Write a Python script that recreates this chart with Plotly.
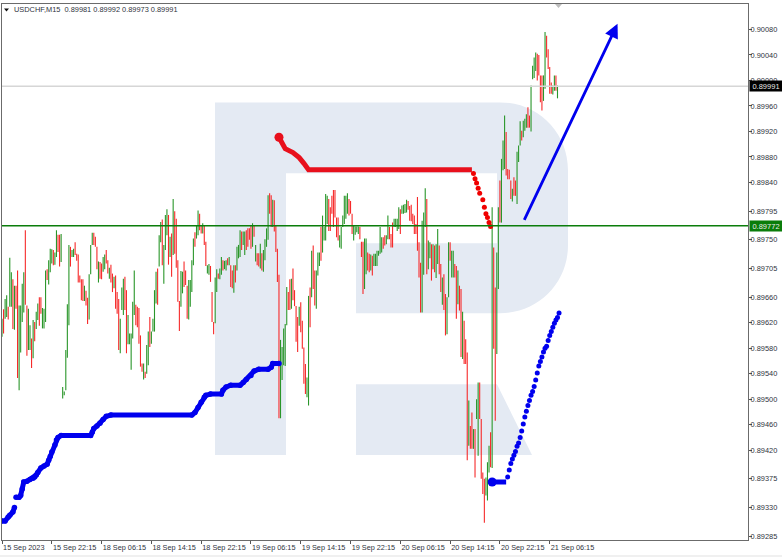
import plotly.graph_objects as go

# ---- candles, prices in 1e-5 points (one row = 10 bars)
bar_highs = [
 89626,89641,89657,89663,89645,89722,89699,89688,89678,89678,
 89702,89647,89647,89681,89699,89765,89647,89642,89616,89595,
 89624,89621,89637,89650,89660,89660,89643,89642,89702,89704,
 89718,89736,89735,89734,89730,89765,89758,89758,89759,89519,
 89512,89577,89649,89742,89739,89734,89736,89746,89728,89727,
 89694,89688,89688,89678,89670,89659,89696,89742,89761,89761,
 89755,89739,89716,89715,89713,89723,89727,89734,89718,89706,
 89711,89697,89692,89694,89668,89657,89626,89675,89689,89692,
 89671,89632,89603,89603,89653,89702,89648,89645,89643,89600,
 89556,89556,89543,89585,89606,89629,89606,89626,89671,89700,
 89705,89757,89778,89782,89742,89789,89798,89789,89755,89760,
 89814,89795,89783,89718,89654,89701,89700,89716,89702,89678,
 89687,89687,89718,89752,89762,89773,89796,89791,89773,89776,
 89773,89747,89710,89712,89709,89668,89621,89691,89704,89697,
 89705,89723,89718,89717,89718,89721,89723,89710,89702,89710,
 89710,89739,89742,89765,89763,89763,89763,89765,89768,89768,
 89773,89776,89773,89742,89729,89729,89744,89729,89734,89751,
 89768,89820,89823,89820,89813,89812,89773,89736,89695,89593,
 89582,89611,89618,89676,89668,89688,89689,89705,89671,89646,
 89629,89645,89652,89623,89581,89555,89534,89662,89675,89733,
 89741,89702,89702,89730,89730,89770,89788,89770,89822,89819,
 89814,89801,89819,89828,89828,89785,89785,89757,89770,89788,
 89819,89819,89823,89814,89811,89791,89772,89771,89771,89771,
 89770,89747,89747,89752,89752,89730,89728,89727,89725,89728,
 89728,89733,89733,89770,89754,89754,89757,89757,89788,89770,
 89759,89777,89783,89783,89783,89801,89798,89804,89805,89806,
 89813,89811,89803,89805,89791,89788,89775,89817,89746,89714,
 89780,89793,89831,89814,89749,89746,89743,89743,89741,89743,
 89767,89741,89712,89691,89696,89665,89660,89746,89746,89733,
 89733,89712,89709,89702,89678,89673,89637,89623,89594,89573,
 89498,89458,89479,89453,89453,89500,89526,89526,89469,89385,
 89375,89377,89401,89427,89448,89801,89738,89675,89730,89801,
 89843,89877,89906,89945,89919,89861,89860,89843,89830,89848,
 89843,89888,89898,89936,89921,89937,89940,89947,89958,89945,
 89992,90023,90036,90044,90042,90040,90008,90008,90008,90076,
 90070,90049,90021,89997,89992,90008,90008,89992,
]
bar_lows = [
 89598,89603,89626,89629,89625,89645,89645,89610,89609,89642,
 89533,89514,89573,89621,89636,89648,89568,89577,89577,89549,
 89564,89591,89610,89624,89615,89634,89611,89611,89621,89687,
 89680,89699,89713,89710,89711,89723,89731,89708,89715,89501,
 89506,89514,89565,89616,89708,89723,89723,89726,89717,89683,
 89683,89655,89654,89654,89647,89618,89625,89696,89742,89742,
 89739,89704,89683,89689,89688,89700,89704,89713,89697,89689,
 89683,89668,89674,89642,89634,89577,89572,89640,89632,89640,
 89572,89586,89586,89546,89595,89632,89616,89613,89587,89551,
 89543,89531,89533,89540,89553,89582,89587,89606,89606,89650,
 89648,89708,89746,89710,89681,89734,89757,89711,89723,89692,
 89726,89728,89706,89653,89607,89645,89666,89676,89679,89626,
 89625,89645,89668,89710,89739,89752,89757,89765,89760,89760,
 89742,89709,89697,89695,89684,89621,89602,89619,89668,89689,
 89688,89695,89702,89704,89702,89710,89710,89676,89674,89667,
 89683,89702,89721,89723,89734,89742,89726,89734,89739,89750,
 89736,89739,89755,89716,89710,89708,89705,89702,89700,89718,
 89739,89750,89791,89770,89770,89763,89731,89684,89470,89470,
 89530,89553,89552,89616,89640,89640,89642,89655,89646,89590,
 89574,89615,89605,89579,89524,89508,89503,89490,89613,89660,
 89673,89647,89642,89694,89709,89717,89730,89749,89749,89775,
 89764,89764,89791,89770,89785,89754,89749,89738,89736,89770,
 89775,89783,89791,89788,89791,89759,89749,89758,89762,89759,
 89751,89723,89665,89673,89696,89702,89699,89702,89694,89709,
 89709,89709,89725,89728,89730,89736,89741,89743,89751,89751,
 89738,89738,89770,89770,89764,89767,89759,89791,89791,89792,
 89793,89797,89780,89779,89775,89759,89759,89733,89691,89636,
 89636,89695,89770,89696,89704,89721,89686,89704,89699,89690,
 89712,89696,89668,89648,89640,89600,89602,89660,89717,89691,
 89691,89691,89626,89649,89639,89566,89563,89555,89555,89404,
 89427,89422,89422,89422,89377,89469,89411,89469,89375,89351,
 89306,89349,89341,89385,89393,89392,89579,89466,89571,89673,
 89777,89777,89859,89861,89851,89845,89845,89814,89810,89819,
 89819,89806,89872,89898,89906,89911,89921,89926,89926,89926,
 89920,90002,90004,90015,90000,90008,89966,89953,89968,89987,
 90036,90018,89979,89979,89978,89984,89984,89972,
]
bar_dirs = (
 "GRGGRGGRGR" "RGGGGRRGGR" "GRGGRRGGGR" "GGGRGGRRGG" "GGGGRGGRRR"
 "RRRGRRGGGR" "RRGRRGGRRG" "RRGRRRGGGR" "RGGGGGRRRR" "RGRGGRGGGG"
 "RGGRGGGRGR" "GRRRRGGRRR" "GGGGRGGRRG" "RRGGRRRGGR" "GGRGGRGRRG"
 "RGGGRGGRRR" "RGRGRRGRGG" "GGRRGRRRRG" "GGGGRRGRRR" "RGRRRRGGRG"
 "RRGGGRGGGG" "RRRRRRRGGG" "GGGRRRGGGG" "RRRGGRRGRG" "GGGGGRRGGR"
 "RRGGGGRGGG" "GRRRRRRRRR" "GGGRGGRGRG" "GRRGRRGGRG" "GRRGRRGRRR"
 "GRRGRGGRRR" "RGGGRGRRGG" "RGGGRRRRGR" "RGGGRGGGRR" "GGGGRRRRGG"
 "RRRRGGRG"
)

# ---- indicator traces: bar index and price in 1e-5 points
blue_left_idx = [0,2,4,5,7,8,None,9,11,12,13,14,16,18,20,21,22,23,25,27,29,30,31,32,34,35,36,38,57,58,59,61,63,65,67,70,122,124,126,128,130,131,134,141,142,144,147,153,155,157,160,162,165,171,173,174,178]
blue_left_val = [89309,89309,89315,89318,89323,89330,None,89346,89346,89349,89359,89370,89371,89374,89376,89378,89381,89385,89392,89395,89398,89404,89410,89417,89428,89436,89440,89443,89443,89448,89454,89458,89462,89468,89473,89475,89475,89479,89487,89495,89503,89506,89508,89508,89514,89519,89522,89522,89526,89531,89537,89544,89547,89547,89550,89556,89556]
blue_flat_idx = [315,324]
blue_flat_val = [89370,89370]
blue_dot_idx = [325,326,327,328,329,330,331,332,333,334,335,336,337,338,339,340,341,342,343,344,345,346,347,348,349,350,351,352,353,354,355,356,357,358]
blue_dot_val = [89378,89389,89399,89406,89412,89418,89426,89431,89440,89450,89461,89472,89481,89490,89498,89506,89512,89520,89530,89541,89552,89559,89566,89574,89580,89583,89592,89600,89606,89613,89619,89624,89628,89635]
red_line_idx = [178,182,187,191,194,197,302]
red_line_val = [89911,89893,89887,89879,89870,89860,89860]
red_dot_idx = [303,304,305,306,307,309,310,311,312,313,314]
red_dot_val = [89854,89846,89839,89831,89823,89813,89801,89791,89785,89777,89771]

# ---- axes
x_tick_labels = ["15 Sep 2023","15 Sep 22:15","18 Sep 06:15","18 Sep 14:15","18 Sep 22:15","19 Sep 06:15",
                 "19 Sep 14:15","19 Sep 22:15","20 Sep 06:15","20 Sep 14:15","20 Sep 22:15","21 Sep 06:15"]
x_tick_bars = [0,32,64,96,128,160,192,224,256,288,320,352]
y_tick_labels = ["0.90080","0.90040","0.90000","0.89960","0.89920","0.89880","0.89840","0.89795","0.89750","0.89705",
                 "0.89660","0.89620","0.89580","0.89540","0.89500","0.89460","0.89420","0.89375","0.89330","0.89285"]
last_price = 0.89991
level_price = 0.89772
title_text = "USDCHF,M15  0.89981 0.89992 0.89973 0.89991"
arrow_from = (335.2, 0.89779)
arrow_to = (395.6, 0.90089)

W, H = 782, 557
L, R, T, B = 2, 748, 3.5, 540
def px(x, y):
    return (x - L) / (R - L), 1 - (y - T) / (B - T)
def path(points):
    out = []
    for cmd, pts_ in points:
        out.append(cmd + " ".join("%.5f,%.5f" % px(*p) for p in pts_))
    return " ".join(out) + " Z"

INK = "#2f3440"
FONT = "Liberation Sans"
PALE = "#E4EAF3"
pts = lambda v: None if v is None else v * 1e-5

opens = [l if d == "G" else h for h, l, d in zip(bar_highs, bar_lows, bar_dirs)]
closes = [h if d == "G" else l for h, l, d in zip(bar_highs, bar_lows, bar_dirs)]

fig = go.Figure()
fig.add_trace(go.Ohlc(
    x=list(range(len(bar_highs))),
    open=[pts(v) for v in opens], high=[pts(v) for v in bar_highs],
    low=[pts(v) for v in bar_lows], close=[pts(v) for v in closes],
    tickwidth=0, increasing_line=dict(color="#2a962a", width=1.1),
    decreasing_line=dict(color="#f62a2a", width=1.1), showlegend=False, hoverinfo="skip"))
BLUE, RED = "#0000ee", "#e8101c"
fig.add_trace(go.Scatter(x=blue_left_idx, y=[pts(v) for v in blue_left_val], mode="lines+markers",
                         line=dict(color=BLUE, width=5), marker=dict(color=BLUE, size=5.5), showlegend=False))
fig.add_trace(go.Scatter(x=blue_flat_idx, y=[pts(v) for v in blue_flat_val], mode="lines",
                         line=dict(color=BLUE, width=5), showlegend=False))
fig.add_trace(go.Scatter(x=blue_dot_idx, y=[pts(v) for v in blue_dot_val], mode="markers",
                         marker=dict(color=BLUE, size=5), showlegend=False))
fig.add_trace(go.Scatter(x=blue_flat_idx[:1], y=[pts(v) for v in blue_flat_val[:1]], mode="markers",
                         marker=dict(color=BLUE, size=9), showlegend=False))
fig.add_trace(go.Scatter(x=red_line_idx, y=[pts(v) for v in red_line_val], mode="lines",
                         line=dict(color=RED, width=5), showlegend=False))
fig.add_trace(go.Scatter(x=red_dot_idx, y=[pts(v) for v in red_dot_val], mode="markers",
                         marker=dict(color="#f00000", size=5), showlegend=False))
fig.add_trace(go.Scatter(x=red_line_idx[:1], y=[pts(v) for v in red_line_val[:1]], mode="markers",
                         marker=dict(color=RED, size=9), showlegend=False))

shapes = [
    dict(type="path", xref="paper", yref="paper", layer="below", fillcolor=PALE, line_width=0,
         path=path([("M", [(215,102)]), ("L", [(500,102)]), ("C", [(538,102),(568,132),(568,170)]),
                    ("L", [(568,245)]), ("C", [(568,283),(538,313),(500,313)]), ("L", [(356,313)]),
                    ("L", [(356,243)]), ("L", [(497,243)]), ("L", [(497,173)]), ("L", [(286,173)]),
                    ("L", [(286,455)]), ("L", [(215,455)])])),
    dict(type="path", xref="paper", yref="paper", layer="below", fillcolor=PALE, line_width=0,
         path=path([("M", [(356,384)]), ("L", [(497,384)]), ("L", [(532,455)]), ("L", [(356,455)])])),
    dict(type="line", xref="paper", x0=0, x1=1, yref="y", y0=last_price, y1=last_price,
         line=dict(color="#d6d6d6", width=1.5), layer="above"),
    dict(type="line", xref="paper", x0=0, x1=1, yref="y", y0=level_price, y1=level_price,
         line=dict(color="#0b7d0b", width=1.6), layer="above"),
    dict(type="path", xref="paper", yref="paper", fillcolor="#111111", line_width=0,
         path=path([("M", [(4,8)]), ("L", [(9,8)]), ("L", [(6.5,11)])])),
    dict(type="path", xref="paper", yref="paper", fillcolor="#bdbdbd", line_width=0,
         path=path([("M", [(555,3.5)]), ("L", [(562,3.5)]), ("L", [(558.5,7.5)])])),
    dict(type="path", xref="paper", yref="paper", fillcolor="#f0f0f0", line_width=0,
         path=path([("M", [(0,555)]), ("L", [(782,555)]), ("L", [(782,557)]), ("L", [(0,557)])])),
]

def tag(price, text, bg):
    return dict(xref="paper", yref="y", x=1, y=price, xanchor="left", yanchor="middle", xshift=1,
                text=text, showarrow=False, bgcolor=bg, width=32, height=10, borderpad=0,
                font=dict(family=FONT, size=7.5, color="#e8e8e8"), align="center")

annotations = [
    dict(xref="paper", yref="paper", x=px(11.5,9)[0], y=px(11.5,9)[1], xanchor="left", yanchor="middle",
         text=title_text, showarrow=False, font=dict(family=FONT, size=7.4, color=INK)),
    dict(x=arrow_to[0], y=arrow_to[1], ax=arrow_from[0], ay=arrow_from[1], xref="x", yref="y",
         axref="x", ayref="y", text="", showarrow=True, arrowcolor="#0000ee", arrowwidth=2.8,
         arrowhead=2, arrowsize=1),
    tag(last_price, f"{last_price:.5f}", "#000000"),
    tag(level_price, f"{level_price:.5f}", "#0a7d0a"),
]

fig.update_layout(
    width=W, height=H, paper_bgcolor="white", plot_bgcolor="rgba(0,0,0,0)",
    margin=dict(l=L, r=W - R, t=T, b=H - B, pad=0), showlegend=False,
    shapes=shapes, annotations=annotations, hovermode=False,
    xaxis=dict(range=[0, (R - L) / 1.556], rangeslider_visible=False, tickmode="array", automargin=False,
               tickvals=x_tick_bars, ticktext=x_tick_labels, ticks="outside", ticklen=3, tickwidth=1,
               tickangle=0, tickcolor="#555555", ticklabelposition="outside right",
               tickfont=dict(family=FONT, size=7.3, color=INK), showgrid=False, zeroline=False,
               showline=True, mirror=True, linecolor="#6b6b6b", linewidth=1.2),
    yaxis=dict(range=[0.89279, 0.90120], side="right", tickmode="array", automargin=False,
               tickvals=[float(v) for v in y_tick_labels], ticktext=y_tick_labels, ticks="outside",
               ticklen=3, tickwidth=1, tickcolor="#555555", ticklabelstandoff=-3,
               tickfont=dict(family=FONT, size=7.4, color=INK), showgrid=False, zeroline=False,
               showline=True, mirror=True, linecolor="#6b6b6b", linewidth=1.2),
)

fig.write_html("out.html", config=dict(displayModeBar=False),
               post_script="document.body.style.margin='0';document.body.style.overflow='hidden';")
